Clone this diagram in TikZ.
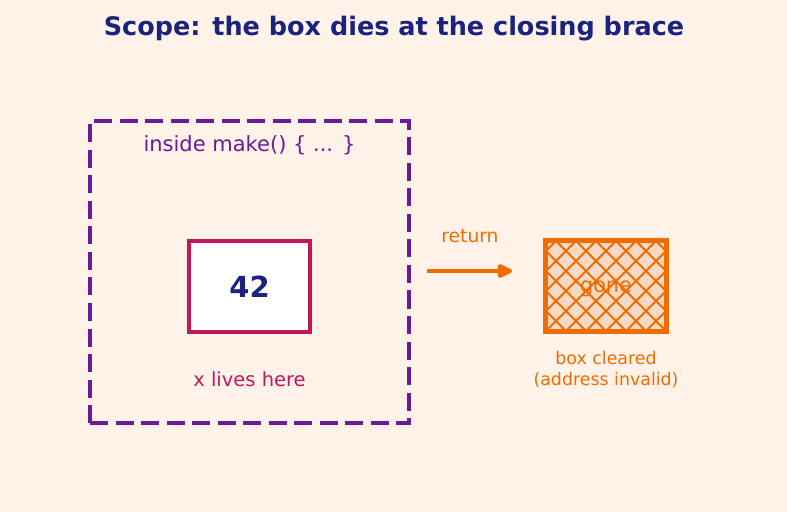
\documentclass[tikz,border=0pt]{standalone}
\usepackage{fontspec}
\setmainfont{DejaVu Sans}
\usetikzlibrary{positioning,arrows.meta}
\definecolor{PageBg}{RGB}{255,242,232}
\definecolor{TitleNavy}{RGB}{26,35,126}
\definecolor{ScopePurple}{RGB}{106,27,154}
\definecolor{BoxCrimson}{RGB}{194,24,91}
\definecolor{GoneOrange}{RGB}{239,108,0}
\definecolor{GoneFill}{RGB}{246,218,198}
\tikzset{
  retflow/.style={-{Triangle[length=17pt,width=15pt,round]},line width=4pt,draw=GoneOrange},
  scopebox/.style={draw=ScopePurple,line width=4.6pt,dash pattern=on 18pt off 7.5pt,
    minimum width=319pt,minimum height=302pt,inner sep=0pt},
  valuebox/.style={draw=BoxCrimson,fill=white,line width=4.2pt,
    minimum width=121pt,minimum height=91pt,inner sep=0pt,
    font=\fontsize{29}{32}\selectfont\bfseries,text=TitleNavy},
  gonebox/.style={draw=GoneOrange,fill=GoneFill,line width=3.2pt,
    minimum width=120pt,minimum height=90pt,inner sep=0pt},
  hatchline/.style={draw=GoneOrange,line width=1.9pt},
  note/.style={inner sep=0pt,align=center,font=\fontsize{19.5}{23}\selectfont}
}

\begin{document}
\begin{tikzpicture}[x=1pt,y=1pt]
  \fill[PageBg] (0,0) rectangle (787,512);
  \useasboundingbox (0,0) rectangle (787,512);

  \node[note,font=\fontsize{25.5}{30}\selectfont\bfseries,text=TitleNavy] (title) at (394,483)
    {Scope: the box dies at the closing brace};

  % the function body
  \node[scopebox] (scope) at (249.5,240) {};
  \node[note,text=ScopePurple,font=\fontsize{21}{24}\selectfont] (scopetxt) at (249.5,367)
    {inside make() \{ ... \}};
  \node[valuebox] (value) at (249.5,225.5) {42};
  \node[note,text=BoxCrimson,below=37pt of value.south] (valuetxt) {x lives here};

  % after return
  \coordinate (retstart) at (427,241);
  \coordinate (retend) at (512,241);
  \draw[retflow] (retstart) -- (retend);
  \node[note,text=GoneOrange,font=\fontsize{18.7}{22}\selectfont] (rettxt) at (470,276) {return};

  \node[gonebox] (gone) at (606,226) {};
  \begin{scope}
    \clip (gone.south west) rectangle (gone.north east);
    \foreach \k in {-6,...,7} {
      \draw[hatchline] ([xshift=\k*20pt]gone.south west) -- ++(100pt,100pt);
      \draw[hatchline] ([xshift=\k*20pt]gone.south east) -- ++(-100pt,100pt);
    }
  \end{scope}
  \draw[GoneOrange,line width=3.2pt] (gone.south west) rectangle (gone.north east);
  \node[note,text=GoneOrange,font=\fontsize{20.8}{24}\selectfont,anchor=base] (gonetxt)
    at ([yshift=-7pt]gone.center) {gone};
  \node[note,text=GoneOrange,font=\fontsize{17.4}{21}\selectfont,below=18pt of gone.south] (gonenote)
    {box cleared\\(address invalid)};
\end{tikzpicture}
\end{document}
